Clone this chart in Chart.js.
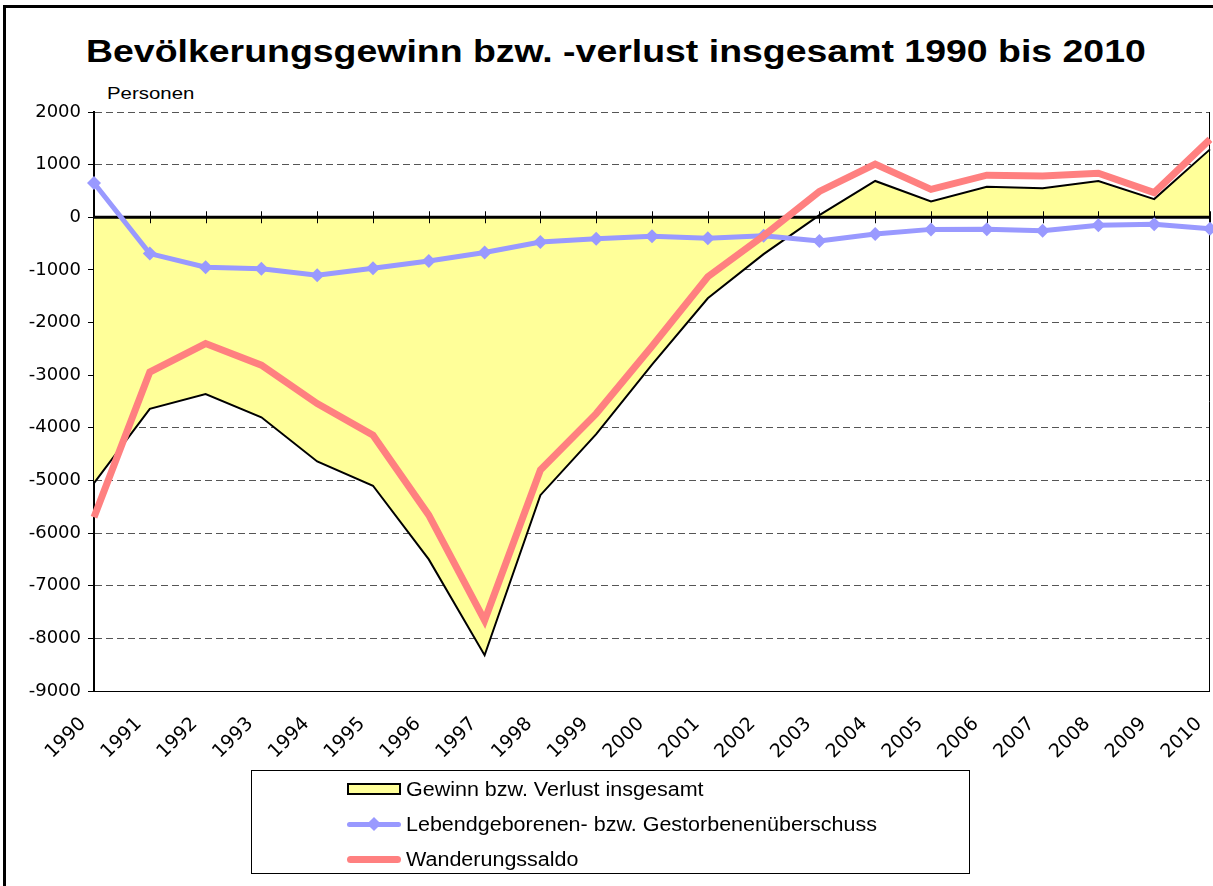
<!DOCTYPE html>
<html lang="de">
<head>
  <meta charset="UTF-8" />
  <title>Bevölkerungsgewinn bzw. -verlust</title>
  <script src="https://cdn.jsdelivr.net/npm/chart.js"></script>
  <style>
    body { margin: 0; background: #fff; font-family: "Liberation Sans", Arial, sans-serif; }
    #page { position: relative; width: 1213px; height: 886px; overflow: hidden; }
    #frame { position: absolute; left: 3px; top: 5px; right: -10px; bottom: -10px; border-left: 3px solid #000; border-top: 3px solid #000; }
    #title { position: absolute; left: 86px; top: 35px; font-weight: bold; font-size: 32px; line-height: 32px; white-space: nowrap;
             transform: scaleX(1.17); transform-origin: 0 0; }
    #unit { position: absolute; left: 107px; top: 84px; font-size: 17px; line-height: 20px; transform: scaleX(1.2); transform-origin: 0 0; }
    canvas { position: absolute; left: 0; top: 0; }
    #legend { position: absolute; left: 251px; top: 770px; width: 719px; height: 104px; border: 1px solid #000; box-sizing: border-box; }
    .item { position: absolute; left: 95px; height: 20px; font-size: 20px; line-height: 20px; }
    .sw { position: absolute; left: 0; top: 4px; width: 54px; height: 12px; }
    .item span { position: absolute; left: 59px; white-space: nowrap; transform: scaleX(1.075); transform-origin: 0 0; }
  </style>
</head>
<body>
<div id="page">
  <div id="frame"></div>
  <div id="title">Bevölkerungsgewinn bzw. -verlust insgesamt 1990 bis 2010</div>
  <div id="unit">Personen</div>
  <canvas id="chart" width="1213" height="886"></canvas>
  <div id="legend"></div>
</div>

<script>
  const years = ["1990","1991","1992","1993","1994","1995","1996","1997","1998","1999","2000",
                 "2001","2002","2003","2004","2005","2006","2007","2008","2009","2010"];
  // Gewinn bzw. Verlust insgesamt
  const total = [-5050, -3640, -3360, -3800, -4640, -5100, -6500, -8320, -5280, -4120, -2800,
                 -1540, -700, 40, 690, 300, 580, 550, 690, 345, 1290];
  // Lebendgeborenen- bzw. Gestorbenenüberschuss
  const natural = [650, -690, -950, -980, -1100, -970, -830, -670, -470, -410, -360,
                   -400, -350, -450, -318, -230, -228, -255, -152, -133, -217];
  // Wanderungssaldo
  const migration = [-5700, -2940, -2400, -2810, -3540, -4140, -5660, -7660, -4800, -3730, -2450,
                     -1130, -350, 490, 1010, 530, 800, 785, 836, 468, 1480];

  const TICK_FONT = "'DejaVu Sans', 'Liberation Sans', Arial, sans-serif";

  // zero line with category ticks, plus right/bottom frame of the plot area
  const axisLines = {
    id: "axisLines",
    beforeDatasetsDraw(chart) {
      const { ctx, chartArea: a, scales: { x, y } } = chart;
      const y0 = y.getPixelForValue(0);
      ctx.save();
      ctx.strokeStyle = "#000";
      ctx.lineWidth = 1;
      ctx.beginPath();
      ctx.moveTo(a.right - 0.5, a.top);
      ctx.lineTo(a.right - 0.5, a.bottom);
      ctx.moveTo(a.left, a.bottom + 0.5);
      ctx.lineTo(a.right, a.bottom + 0.5);
      for (let i = 1; i < years.length; i++) {
        const px = Math.round(x.getPixelForValue(i)) + 0.5;
        ctx.moveTo(px, y0 - 6);
        ctx.lineTo(px, y0 + 6);
      }
      ctx.stroke();
      ctx.lineWidth = 3;
      ctx.beginPath();
      ctx.moveTo(a.left, y0);
      ctx.lineTo(a.right, y0);
      ctx.stroke();
      ctx.restore();
    }
  };

  const chart = new Chart(document.getElementById("chart"), {
    type: "line",
    data: {
      labels: years,
      datasets: [
        {
          label: "Gewinn bzw. Verlust insgesamt",
          data: total,
          borderColor: "#000",
          borderWidth: 2,
          backgroundColor: "#FFFF99",
          fill: "origin",
          pointRadius: 0,
          order: 3
        },
        {
          label: "Lebendgeborenen- bzw. Gestorbenenüberschuss",
          data: natural,
          borderColor: "#9999FF",
          borderWidth: 5,
          pointStyle: "rectRot",
          pointRadius: 7,
          pointBackgroundColor: "#9999FF",
          pointBorderColor: "#9999FF",
          pointBorderWidth: 0,
          fill: false,
          clip: false,
          order: 2
        },
        {
          label: "Wanderungssaldo",
          data: migration,
          borderColor: "#FF8080",
          borderWidth: 7,
          pointRadius: 0,
          fill: false,
          clip: false,
          order: 1
        }
      ]
    },
    options: {
      responsive: false,
      animation: false,
      layout: { autoPadding: false, padding: { left: 0, right: 3, top: 112, bottom: 95 } },
      plugins: {
        legend: { display: false },
        tooltip: { enabled: false },
        filler: { drawTime: "beforeDatasetsDraw" }
      },
      elements: { line: { tension: 0 } },
      scales: {
        x: {
          offset: false,
          grid: { display: false, drawTicks: false },
          border: { display: false },
          ticks: {
            color: "#000",
            font: { family: TICK_FONT, size: 19 },
            minRotation: 45,
            maxRotation: 45,
            autoSkip: false,
            padding: 22,
            labelOffset: -11
          },
          afterFit(scale) {
            scale.height = 100;
            scale.paddingLeft = 0;
            scale.paddingRight = 0;
          }
        },
        y: {
          min: -9000,
          max: 2000,
          ticks: {
            stepSize: 1000,
            color: "#000",
            font: { family: TICK_FONT, size: 18 },
            padding: 7,
            callback: v => String(v)
          },
          grid: {
            color: "#555",
            lineWidth: 1,
            drawTicks: true,
            tickLength: 6,
            tickColor: "#000",
            tickBorderDash: []
          },
          border: { display: true, color: "#000", width: 2, dash: [7, 4] },
          afterFit(scale) { scale.width = 94; }
        }
      }
    },
    plugins: [axisLines]
  });

  // legend as in the original: boxed, items listed vertically
  const legend = document.getElementById("legend");
  chart.data.datasets.forEach((ds, i) => {
    const item = document.createElement("div");
    item.className = "item";
    item.style.top = (8 + i * 35) + "px";
    const sw = document.createElement("div");
    sw.className = "sw";
    if (i === 0) {
      sw.style.background = ds.backgroundColor;
      sw.style.border = "2px solid #000";
      sw.style.boxSizing = "border-box";
    } else {
      sw.style.height = ds.borderWidth + "px";
      sw.style.top = (10 - ds.borderWidth / 2) + "px";
      sw.style.background = ds.borderColor;
      sw.style.borderRadius = ds.borderWidth / 2 + "px";
      if (ds.pointStyle === "rectRot") {
        const d = document.createElement("div");
        d.style.cssText = "position:absolute;left:22px;top:-3px;width:10px;height:10px;transform:rotate(45deg);background:" + ds.borderColor;
        sw.appendChild(d);
      }
    }
    const txt = document.createElement("span");
    txt.textContent = ds.label;
    item.appendChild(sw);
    item.appendChild(txt);
    legend.appendChild(item);
  });
</script>
</body>
</html>
